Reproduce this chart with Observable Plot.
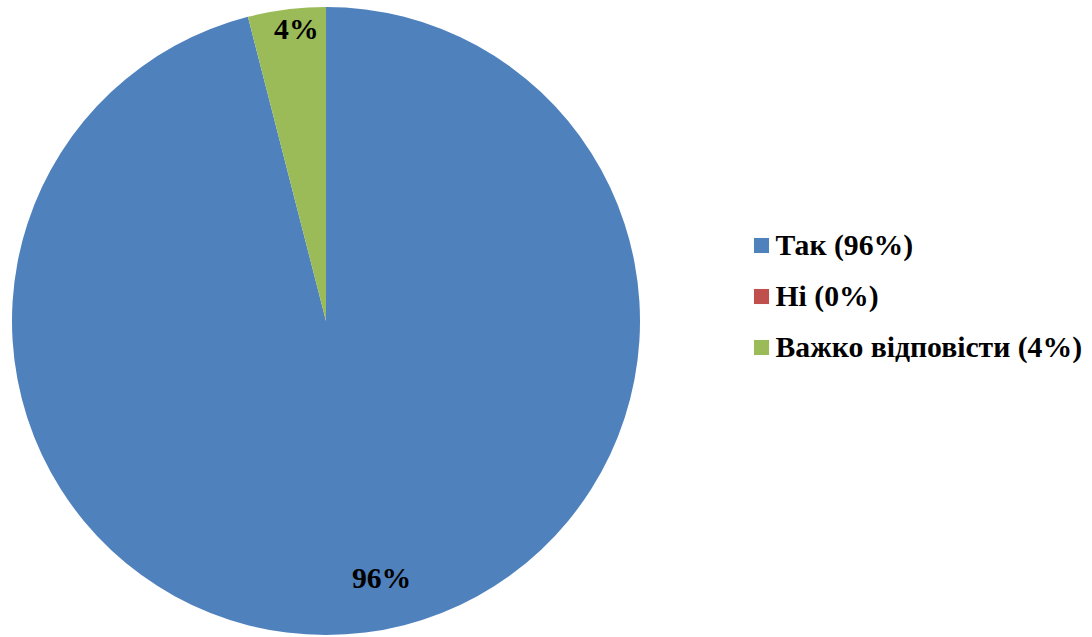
<!DOCTYPE html>
<html>
<head>
<meta charset="utf-8">
<script src="https://cdn.jsdelivr.net/npm/d3@7"></script>
<script src="https://cdn.jsdelivr.net/npm/@observablehq/plot@0.6"></script>
<style>
  html, body { margin: 0; padding: 0; background: #fff; }
  #chart svg { display: block; font-family: "Liberation Serif", serif !important; }
  #chart svg text { font-family: "Liberation Serif", serif !important; font-weight: bold; }
</style>
</head>
<body>
<div id="chart"></div>
<script>
// ---- data ----
const categories = ["Так", "Ні", "Важко відповісти"];
const values = [96, 0, 4];
const colors = ["#4F81BD", "#C0504D", "#9BBB59"];
const legendLabels = ["Так (96%)", "Ні (0%)", "Важко відповісти (4%)"];
const sliceLabels = ["96%", "0%", "4%"];

// ---- layout ----
const W = 1092, H = 637;
const cx = 326, cy = 321, R = 314;
const labelPlacement = {
  "Так": { radius: 0.837, shift: -4.9 },
  "Ні": { radius: 0.85, shift: 0 },
  "Важко відповісти": { radius: 0.935, shift: 1.3 }
};
const legendX = 761, legendTextX = 775, legendTop = 245, legendStep = 51;
const fontSize = 29.7;
const font = "Liberation Serif";

const data = categories.map((c, i) => ({
  category: c, value: values[i], legend: legendLabels[i], slice: sliceLabels[i], i
}));
const arcs = d3.pie().sort(null).value(d => d.value)(data);
const visibleArcs = arcs.filter(a => a.value > 0);
const labelAngle = a => (a.startAngle + a.endAngle) / 2 + labelPlacement[a.data.category].shift * Math.PI / 180;
const labelR = a => R * labelPlacement[a.data.category].radius;

function pieMark(index, scales) {
  const arc = d3.arc().innerRadius(0).outerRadius(R);
  const g = d3.create("svg:g")
    .attr("transform", `translate(${scales.x(cx)},${scales.y(cy)})`);
  g.selectAll("path")
    .data(visibleArcs)
    .join("path")
    .attr("d", arc)
    .attr("fill", a => scales.color(a.data.category));
  return g.node();
}

const chart = Plot.plot({
  width: W,
  height: H,
  margin: 0,
  style: { background: "#fff", fontFamily: font },
  x: { domain: [0, W], range: [0, W], axis: null },
  y: { domain: [0, H], range: [0, H], axis: null },
  color: { domain: categories, range: colors },
  marks: [
    pieMark,
    Plot.text(visibleArcs, {
      x: a => cx + labelR(a) * Math.sin(labelAngle(a)),
      y: a => cy - labelR(a) * Math.cos(labelAngle(a)),
      text: a => a.data.slice,
      fontSize, fontWeight: "bold", fill: "#000", fontFamily: font
    }),
    Plot.dot(data, {
      x: () => legendX,
      y: d => legendTop + d.i * legendStep,
      symbol: "square", r: 8.5, fill: "category", stroke: null
    }),
    Plot.text(data, {
      x: () => legendTextX,
      y: d => legendTop + d.i * legendStep,
      text: "legend",
      textAnchor: "start",
      fontSize, fontWeight: "bold", fill: "#000", fontFamily: font
    })
  ]
});
document.getElementById("chart").appendChild(chart);
</script>
</body>
</html>
